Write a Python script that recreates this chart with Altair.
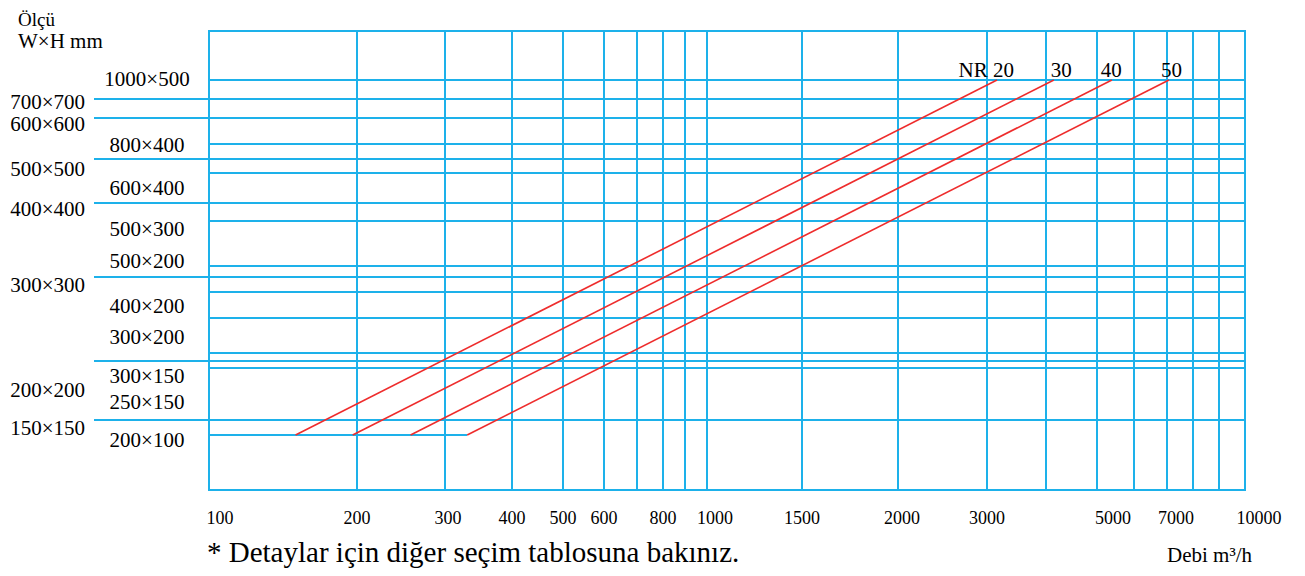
import altair as alt
import pandas as pd

# ---------------- data ----------------
GRID_Q = [100, 200, 300, 400, 500, 600, 700, 800, 900, 1000,
          1500, 2000, 3000, 4000, 5000, 6000, 7000, 8000, 9000, 10000]
X_LABELS = [100, 200, 300, 400, 500, 600, 800, 1000, 1500, 2000, 3000, 5000, 7000, 10000]

SQUARE_SIZES = ["700×700", "600×600", "500×500", "400×400", "300×300", "200×200", "150×150"]
SQUARE_AREA = [0.49, 0.36, 0.25, 0.16, 0.09, 0.04, 0.0225]          # m²
RECT_SIZES = ["1000×500", "800×400", "600×400", "500×300", "500×200",
              "400×200", "300×200", "300×150", "250×150", "200×100"]
RECT_AREA = [0.50, 0.32, 0.24, 0.15, 0.10, 0.08, 0.06, 0.045, 0.0375, 0.02]  # m²

NR_LABELS = ["NR 20", "30", "40", "50"]
NR_Q_START = [150, 196, 256, 330]      # m³/h at 200×100
NR_Q_END = [3150, 4140, 5380, 7070]    # m³/h at 1000×500

# ---------------- style / layout ----------------
FONT = "Liberation Serif"
BLUE = "#1DB1EA"
RED = "#EE2C2C"
W, H = 1036, 459

# hand-drawn nomogram axes: piecewise scale breakpoints
X_RANGE = [0, 148, 236, 303, 354, 395, 428, 454, 476, 498,
           593, 689, 778, 837, 888, 925, 958, 984, 1010, 1036]
Y_DOMAIN = sorted(SQUARE_AREA + RECT_AREA)
Y_RANGE = [404, 389, 337, 330, 322, 287, 261, 246, 235, 190, 172, 142, 128, 113, 87, 68, 49]

LABEL_DX = {100: 11, 300: 3, 1000: 8, 2000: 4, 5000: 16, 7000: 9, 10000: 14}
NR_DX = [17, 18, 10, 13]
SQUARE_DY = [10, 13, 17, 13, 15, 36, 15]
RECT_DY = [6, 8, 22, 15, 2, 21, 26, 30, 41, 12]

xs = alt.Scale(type="log", domain=GRID_Q, range=X_RANGE, nice=False)
ys = alt.Scale(type="linear", domain=Y_DOMAIN, range=Y_RANGE, nice=False, zero=False)

# vertical grid
vgrid = alt.Chart(pd.DataFrame({"q": GRID_Q})).mark_rule(color=BLUE, strokeWidth=2).encode(
    x=alt.X("q:Q", scale=xs, axis=None)
)

# horizontal rectangle-size lines (full width) except the smallest
rect_df = pd.DataFrame({"size": RECT_SIZES[:-1], "area": RECT_AREA[:-1]})
hrect = alt.Chart(rect_df).mark_rule(color=BLUE, strokeWidth=2).encode(
    y=alt.Y("area:Q", scale=ys, axis=None)
)

# square-size lines extend into the label area
sq_df = pd.DataFrame({"size": SQUARE_SIZES, "area": SQUARE_AREA})
hsq = alt.Chart(sq_df).mark_rule(color=BLUE, strokeWidth=2).encode(
    y=alt.Y("area:Q", scale=ys, axis=None),
    x=alt.value(-115), x2=alt.value(W),
)

# smallest (200×100) line runs only up to the NR 50 start
small_df = pd.DataFrame({"q0": [GRID_Q[0]], "q1": [NR_Q_START[-1]], "area": [RECT_AREA[-1]]})
hsmall = alt.Chart(small_df).mark_rule(color=BLUE, strokeWidth=2).encode(
    x=alt.X("q0:Q", scale=xs, axis=None), x2="q1:Q",
    y=alt.Y("area:Q", scale=ys, axis=None),
)

# NR lines
nr_df = pd.DataFrame({
    "nr": NR_LABELS, "q0": NR_Q_START, "q1": NR_Q_END,
    "a0": [RECT_AREA[-1]] * 4, "a1": [RECT_AREA[0]] * 4,
})
red = alt.Chart(nr_df).mark_rule(color=RED, strokeWidth=1.6).encode(
    x=alt.X("q0:Q", scale=xs, axis=None), x2="q1:Q",
    y=alt.Y("a0:Q", scale=ys, axis=None), y2="a1:Q",
)

layers = [vgrid, hrect, hsq, hsmall, red]

for i, dx in enumerate(NR_DX):
    layers.append(
        alt.Chart(nr_df.iloc[[i]]).mark_text(
            font=FONT, fontSize=21, align="right", baseline="alphabetic", dx=dx, dy=-3, color="black"
        ).encode(
            x=alt.X("q1:Q", scale=xs, axis=None),
            y=alt.Y("a1:Q", scale=ys, axis=None),
            text="nr:N",
        )
    )

# x tick labels (flow values)
for q in X_LABELS:
    layers.append(
        alt.Chart(pd.DataFrame({"q": [q], "t": [str(q)]})).mark_text(
            font=FONT, fontSize=18, align="center", baseline="alphabetic",
            dx=LABEL_DX.get(q, 0), color="black"
        ).encode(x=alt.X("q:Q", scale=xs, axis=None), y=alt.value(H + 34), text="t:N")
    )


def size_label(name, area, xpix, align, dy):
    df = pd.DataFrame({"size": [name], "area": [area]})
    return alt.Chart(df).mark_text(
        font=FONT, fontSize=21, align=align, baseline="alphabetic", dy=dy, color="black"
    ).encode(x=alt.value(xpix), y=alt.Y("area:Q", scale=ys, axis=None), text="size:N")


for name, area, dy in zip(SQUARE_SIZES, SQUARE_AREA, SQUARE_DY):
    layers.append(size_label(name, area, -124, "right", dy))
for name, area, dy in zip(RECT_SIZES, RECT_AREA, RECT_DY):
    layers.append(size_label(name, area, -62, "center", dy))


def free_text(txt, xpix, ypix, size, align="left"):
    return alt.Chart(pd.DataFrame({"t": [txt]})).mark_text(
        font=FONT, fontSize=size, align=align, baseline="alphabetic", color="black"
    ).encode(x=alt.value(xpix), y=alt.value(ypix), text="t:N")


layers += [
    free_text("Ölçü", -191, -5, 19),
    free_text("W×H mm", -191, 17, 21),
    free_text("* Detaylar için diğer seçim tablosuna bakınız.", -2, 531, 29),
    free_text("Debi m³/h", 958, 531, 21),
]

chart = alt.layer(*layers).properties(
    width=W, height=H,
    autosize=alt.AutoSizeParams(type="none"),
    padding={"left": 201, "top": 23, "right": 50, "bottom": 78},
    background="white",
).configure_view(stroke=BLUE, strokeWidth=2)

chart.save("out.html", embed_options={"renderer": "svg", "actions": False})
